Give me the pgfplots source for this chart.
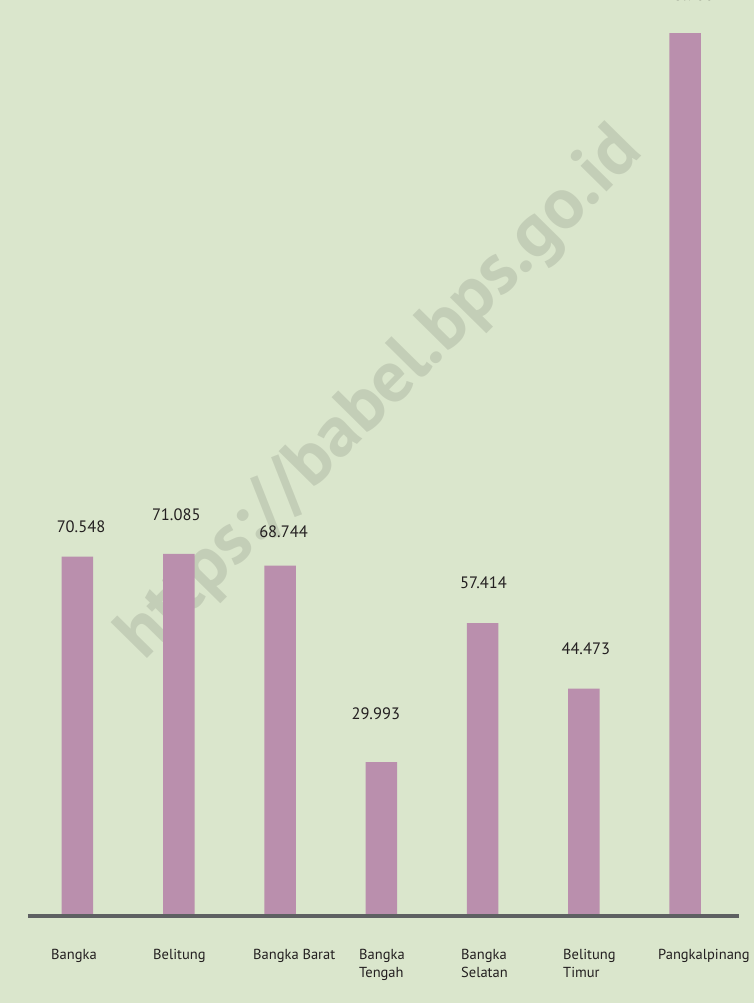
\documentclass[border=0pt]{standalone}
\usepackage{pgfplots}
\pgfplotsset{compat=1.18}
\usepackage{pgfplotstable}
\usepackage{fontspec}
\setmainfont{PT Sans}
\definecolor{bgc}{HTML}{DAE6CC}
\definecolor{barc}{HTML}{BA8FAD}
\definecolor{linec}{HTML}{5E6062}
\definecolor{txtc}{HTML}{231F20}

\pgfplotstableread{
x y dx dy label
0 70.548 3.5 24 70.548
1 71.085 -2.5 33 71.085
2 68.744 3.5 28 68.744
3 29.993 -5.5 42 29.993
4 57.414 1 34 57.414
5 44.473 2 34 44.473
6 173.9 0 32 173.900
}\datatable

\begin{document}
\begin{tikzpicture}
\begin{axis}[
  scale only axis,
  width=754pt, height=1003pt,
  xmin=-0.7654, xmax=6.6815,
  ymin=-17.568, ymax=180.42,
  axis background/.style={fill=bgc},
  axis line style={draw=none},
  major tick length=0pt,
  ytick=\empty,
  xtick={-0.2617,0.7457,1.7333,2.7802,3.7877,4.7951,5.7333},
  xticklabels={Bangka,Belitung,Bangka Barat,{Bangka\\Tengah},{Bangka\\Selatan},{Belitung\\Timur},Pangkalpinang},
  xticklabel style={anchor=north west, align=left, inner sep=0pt, yshift=54pt,
    font=\fontsize{14.5}{18.5}\selectfont, text=txtc},
  clip=false,
]
\node[rotate=45.4, font=\fontsize{73}{76}\selectfont\bfseries, text=black, text opacity=0.1]
  at (axis cs:3.0,102.5) {https://babel.bps.go.id};
\addplot[ybar, bar width=31.5pt, fill=barc, draw=none,
  point meta=explicit symbolic,
  visualization depends on={\thisrow{dx} \as \dx},
  visualization depends on={\thisrow{dy} \as \dy},
  nodes near coords={\pgfplotspointmeta},
  nodes near coords style={anchor=south, inner sep=0pt, xshift=\dx pt, yshift=\dy pt,
    font=\fontsize{16.5}{18}\selectfont, text=txtc},
] table[x=x, y=y, meta=label] {\datatable};
\draw[linec, line width=4.5pt] (axis cs:-0.4889,-0.39) -- (axis cs:6.533,-0.39);
\end{axis}
\pgfresetboundingbox
\path[use as bounding box] (current axis.south west) rectangle (current axis.north east);
\end{tikzpicture}
\end{document}
